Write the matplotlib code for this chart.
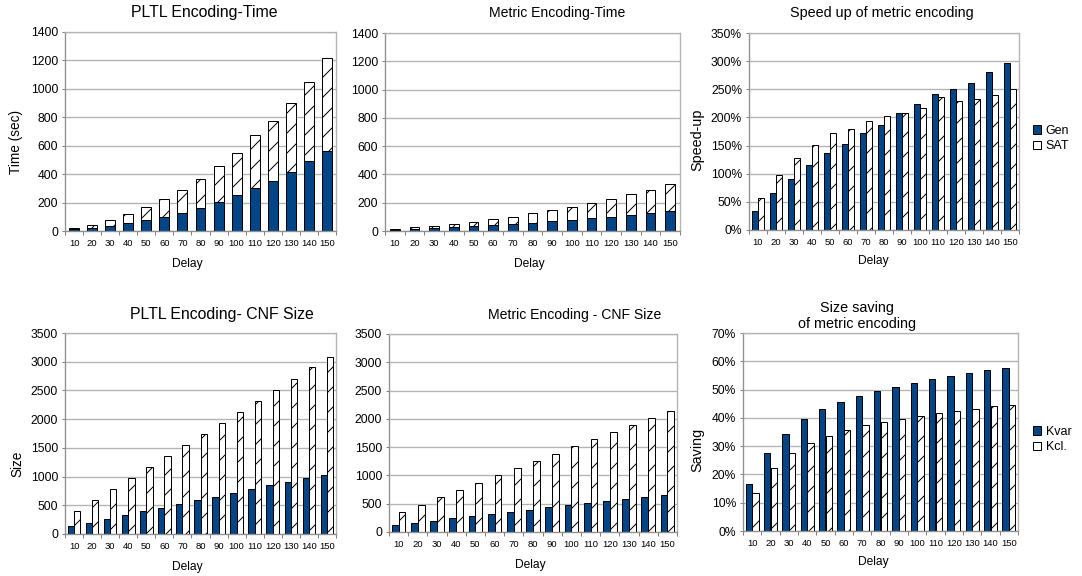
import matplotlib
matplotlib.use('Agg')
import matplotlib.pyplot as plt
import numpy as np
from matplotlib.ticker import PercentFormatter, MultipleLocator, FixedLocator

# data
delays = ['10', '20', '30', '40', '50', '60', '70', '80', '90', '100', '110', '120', '130', '140', '150']

# encoding time (sec): generation part + SAT part, stacked
pltl_gen_time = [12, 20, 35, 55, 75, 100, 130, 165, 205, 255, 305, 355, 415, 490, 565]
pltl_sat_time = [10, 25, 40, 63, 93, 122, 160, 203, 250, 295, 373, 417, 482, 555, 655]
metric_gen_time = [10, 13, 18, 25, 33, 40, 48, 60, 68, 78, 90, 102, 115, 130, 143]
metric_sat_time = [7, 14, 19, 25, 32, 42, 54, 65, 80, 94, 110, 126, 145, 162, 187]

# speed up of metric encoding (%)
speedup_gen = [33, 66, 91, 116, 137, 153, 173, 186, 208, 224, 242, 250, 262, 281, 296]
speedup_sat = [56, 98, 128, 151, 172, 179, 193, 202, 207, 217, 237, 230, 233, 240, 251]

# CNF size: variables and clauses
pltl_kvar = [140, 200, 265, 330, 395, 460, 520, 585, 650, 715, 780, 845, 905, 970, 1035]
pltl_kcl = [400, 590, 780, 975, 1170, 1360, 1550, 1745, 1935, 2130, 2320, 2515, 2705, 2900, 3090]
metric_kvar = [115, 160, 200, 240, 275, 320, 355, 395, 435, 470, 510, 550, 585, 625, 660]
metric_kcl = [355, 485, 620, 750, 875, 1005, 1130, 1260, 1385, 1515, 1640, 1765, 1890, 2015, 2140]

# size saving of metric encoding (%)
saving_kvar = [16.7, 27.7, 34.3, 39.6, 43.1, 45.7, 47.7, 49.5, 51.0, 52.4, 53.7, 54.8, 55.7, 56.8, 57.5]
saving_kcl = [13.3, 22.4, 27.6, 31.1, 33.6, 35.6, 37.4, 38.5, 39.7, 40.7, 41.7, 42.5, 43.2, 44.1, 44.5]

plt.rcParams['font.family'] = ['Liberation Sans', 'DejaVu Sans']
plt.rcParams['hatch.linewidth'] = 0.6
plt.rcParams['hatch.color'] = 'black'

BLUE = '#004586'
GRID = '#b3b3b3'
HATCH = '//'
DPI = 120
W, H = 1082, 576

fig = plt.figure(figsize=(W / DPI, H / DPI), dpi=DPI)


def make_axes(left, top, right, bottom):
    # pixel box -> figure fraction
    return fig.add_axes([left / W, 1 - bottom / H, (right - left) / W, (bottom - top) / H])


def style(ax, ymax, ystep, title, tx, ty, tsize, xl, yl=None, ylx=0, yly=0.5, ylsize=8, pct=False):
    x = np.arange(len(delays))
    ax.set_xlim(-0.5, len(delays) - 0.5)
    ax.set_ylim(0, ymax)
    ax.yaxis.set_major_locator(MultipleLocator(ystep))
    if pct:
        ax.yaxis.set_major_formatter(PercentFormatter(decimals=0))
    ax.set_xticks(x)
    ax.set_xticklabels(delays)
    ax.xaxis.set_minor_locator(FixedLocator(np.arange(-0.5, len(delays), 1.0)))
    ax.tick_params(axis='x', which='major', length=0, pad=5.0, labelsize=5.7)
    ax.tick_params(axis='x', which='minor', length=2.6, width=0.6, color='#808080', direction='out')
    ax.tick_params(axis='y', length=1.8, width=0.6, color='#808080', pad=2.4, labelsize=7.3)
    ax.grid(axis='y', color=GRID, linewidth=0.8)
    ax.set_axisbelow(True)
    for s in ax.spines.values():
        s.set_color(GRID)
        s.set_linewidth(0.8)
    ax.spines['left'].set_color('#909090')
    ax.spines['bottom'].set_color('#909090')
    ax.set_title(title, x=tx, y=ty, va='center', fontsize=tsize, pad=0)
    ax.set_xlabel('Delay', fontsize=7.2, va='center')
    ax.xaxis.set_label_coords(xl[0], xl[1])
    if yl:
        ax.set_ylabel(yl, fontsize=ylsize, va='center')
        ax.yaxis.set_label_coords(ylx, yly)


def add_legend(ax, anchor):
    leg = ax.legend(loc='center left', bbox_to_anchor=anchor, frameon=False, fontsize=7.5,
                    handlelength=0.65, handleheight=0.65, handletextpad=0.35, labelspacing=0.25,
                    borderpad=0, borderaxespad=0)
    # legend squares are plain, no hatch
    for h in leg.legend_handles:
        h.set_hatch(None)


x = np.arange(len(delays))
ekw = dict(edgecolor='black', linewidth=0.6)

# PLTL encoding time
ax1 = make_axes(65, 32, 336, 231)
ax1.bar(x, pltl_gen_time, 0.55, color=BLUE, **ekw)
ax1.bar(x, pltl_sat_time, 0.55, bottom=pltl_gen_time, color='white', hatch=HATCH, **ekw)
style(ax1, 1400, 200, 'PLTL Encoding-Time', 0.513, 1.1005, 9.5, (0.45, -0.166),
      'Time (sec)', -0.181, 0.45, 8.2)

# Metric encoding time
ax2 = make_axes(385, 33, 680, 231)
ax2.bar(x, metric_gen_time, 0.5, color=BLUE, **ekw)
ax2.bar(x, metric_sat_time, 0.5, bottom=metric_gen_time, color='white', hatch=HATCH, **ekw)
style(ax2, 1400, 200, 'Metric Encoding-Time', 0.583, 1.0995, 8.4, (0.49, -0.167))

# speed up
ax3 = make_axes(749, 33, 1019, 230)
ax3.bar(x - 0.175, speedup_gen, 0.35, color=BLUE, label='Gen', **ekw)
ax3.bar(x + 0.175, speedup_sat, 0.35, color='white', hatch=HATCH, label='SAT', **ekw)
style(ax3, 350, 50, 'Speed up of metric encoding', 0.493, 1.1015, 8.6, (0.459, -0.157),
      'Speed-up', -0.193, 0.457, 8.6, pct=True)
add_legend(ax3, (1.05, 0.464))

# PLTL CNF size
ax4 = make_axes(65, 333, 336, 534)
ax4.bar(x - 0.175, pltl_kvar, 0.35, color=BLUE, **ekw)
ax4.bar(x + 0.175, pltl_kcl, 0.35, color='white', hatch=HATCH, **ekw)
style(ax4, 3500, 500, 'PLTL Encoding- CNF Size', 0.579, 1.0896, 9.5, (0.45, -0.164),
      'Size', -0.177, 0.35, 8.2)

# Metric CNF size
ax5 = make_axes(389, 334, 677, 532)
ax5.bar(x - 0.175, metric_kvar, 0.35, color=BLUE, **ekw)
ax5.bar(x + 0.175, metric_kcl, 0.35, color='white', hatch=HATCH, **ekw)
style(ax5, 3500, 500, 'Metric Encoding - CNF Size', 0.646, 1.096, 8.4, (0.49, -0.167))

# size saving
ax6 = make_axes(743, 333, 1018, 531)
ax6.bar(x - 0.175, saving_kvar, 0.35, color=BLUE, label='Kvar', **ekw)
ax6.bar(x + 0.175, saving_kcl, 0.35, color='white', hatch=HATCH, label='Kcl.', **ekw)
style(ax6, 70, 10, 'Size saving\nof metric encoding', 0.415, 1.086, 8.6, (0.473, -0.157),
      'Saving', -0.167, 0.41, 8.6, pct=True)
add_legend(ax6, (1.055, 0.462))

fig.savefig('out.png', dpi=DPI)
